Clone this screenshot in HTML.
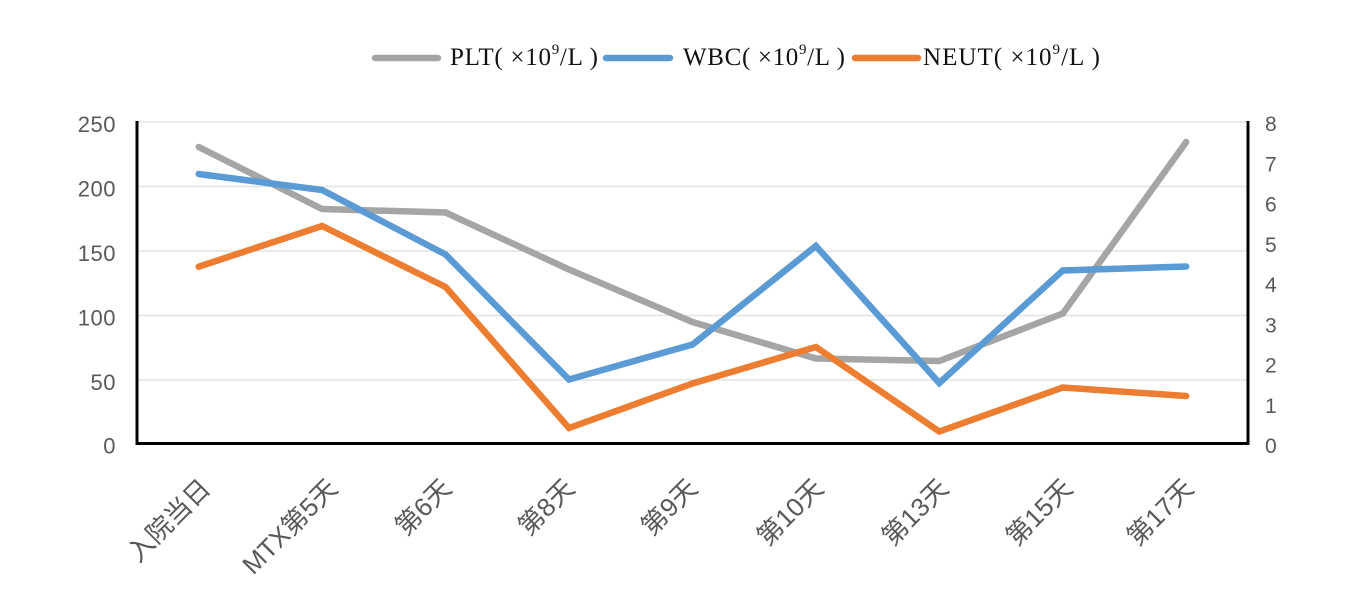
<!DOCTYPE html>
<html>
<head>
<meta charset="utf-8">
<style>
html,body{margin:0;padding:0;background:#fff;}
svg{display:block;}
</style>
</head>
<body>
<svg width="1345" height="590" viewBox="0 0 1345 590" xmlns="http://www.w3.org/2000/svg">
  <rect width="1345" height="590" fill="#fff"/>
  <!-- gridlines -->
  <g stroke="#e3e3e3" stroke-width="1.6">
    <line x1="138" y1="122" x2="1248" y2="122"/>
    <line x1="138" y1="186.5" x2="1248" y2="186.5"/>
    <line x1="138" y1="251" x2="1248" y2="251"/>
    <line x1="138" y1="315.5" x2="1248" y2="315.5"/>
    <line x1="138" y1="380" x2="1248" y2="380"/>
  </g>
  <!-- axes -->
  <g stroke="#000" stroke-width="3" fill="none">
    <line x1="137" y1="121" x2="137" y2="445"/>
    <line x1="1248" y1="121" x2="1248" y2="445"/>
    <line x1="136" y1="443.5" x2="1249.5" y2="443.5"/>
  </g>
  <!-- left y labels -->
  <g font-family="Liberation Sans, sans-serif" font-size="22" fill="#595959" text-anchor="end" letter-spacing="0.5">
    <text x="116" y="132">250</text>
    <text x="116" y="196.5">200</text>
    <text x="116" y="261">150</text>
    <text x="116" y="325.5">100</text>
    <text x="116" y="390">50</text>
    <text x="116" y="453.5">0</text>
  </g>
  <!-- right y labels -->
  <g font-family="Liberation Sans, sans-serif" font-size="21" fill="#595959" text-anchor="start">
    <text x="1265" y="131">8</text>
    <text x="1265" y="171.3">7</text>
    <text x="1265" y="211.5">6</text>
    <text x="1265" y="251.8">5</text>
    <text x="1265" y="292">4</text>
    <text x="1265" y="332.3">3</text>
    <text x="1265" y="372.5">2</text>
    <text x="1265" y="412.8">1</text>
    <text x="1265" y="453">0</text>
  </g>
  <!-- series -->
  <g fill="none" stroke-width="6.5" stroke-linejoin="miter" stroke-miterlimit="10" stroke-linecap="round">
    <polyline stroke="#A5A5A5" points="198.7,147 322.1,209 445.6,212.5 569,269.5 692.5,322 815.9,358.5 939.3,361 1062.8,313.5 1186.2,142"/>
    <polyline stroke="#5B9BD5" points="198.7,174 322.1,190 445.6,254.5 569,379.5 692.5,344.5 815.9,246 939.3,383 1062.8,270.5 1186.2,266.5"/>
    <polyline stroke="#ED7D31" points="198.7,266.7 322.1,226 445.6,287 569,428 692.5,383.5 815.9,347 939.3,431.5 1062.8,387.5 1186.2,396"/>
  </g>
  <!-- x labels -->
  <g font-family="Liberation Sans, 'Noto Sans CJK SC', sans-serif" font-size="26" fill="#595959" text-anchor="end">
    <text transform="translate(212,490) rotate(-45)">入院当日</text>
    <text transform="translate(339,490) rotate(-45)">MTX第5天</text>
    <text transform="translate(453,490) rotate(-45)">第6天</text>
    <text transform="translate(576,490) rotate(-45)">第8天</text>
    <text transform="translate(699,490) rotate(-45)">第9天</text>
    <text transform="translate(825,490) rotate(-45)">第10天</text>
    <text transform="translate(950,490) rotate(-45)">第13天</text>
    <text transform="translate(1074,490) rotate(-45)">第15天</text>
    <text transform="translate(1195,490) rotate(-45)">第17天</text>
  </g>
  <!-- legend -->
  <g stroke-width="6.5" stroke-linecap="round">
    <line x1="375" y1="58" x2="438" y2="58" stroke="#A5A5A5"/>
    <line x1="606" y1="58" x2="670" y2="58" stroke="#5B9BD5"/>
    <line x1="855" y1="58" x2="918" y2="58" stroke="#ED7D31"/>
  </g>
  <g font-family="Liberation Serif, serif" font-size="25" fill="#111">
    <text x="450" y="65" textLength="148" lengthAdjust="spacing">PLT( ×10<tspan font-size="15" dy="-11">9</tspan><tspan dy="11">/L )</tspan></text>
    <text x="683" y="65" textLength="162" lengthAdjust="spacing">WBC( ×10<tspan font-size="15" dy="-11">9</tspan><tspan dy="11">/L )</tspan></text>
    <text x="923" y="65" textLength="177" lengthAdjust="spacing">NEUT( ×10<tspan font-size="15" dy="-11">9</tspan><tspan dy="11">/L )</tspan></text>
  </g>
</svg>
</body>
</html>
